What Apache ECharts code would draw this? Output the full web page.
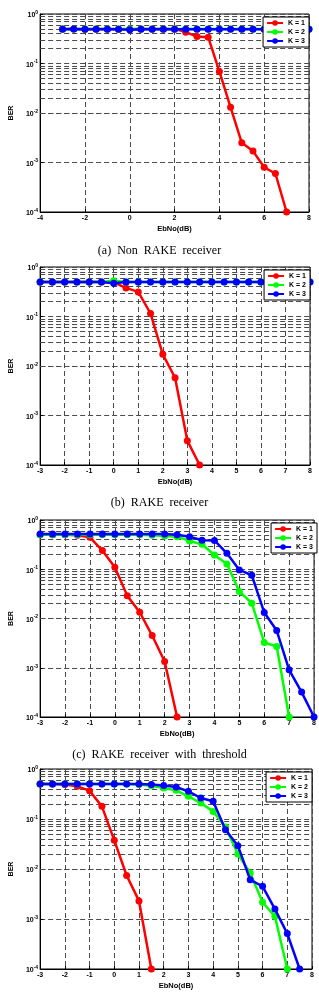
<!DOCTYPE html>
<html><head><meta charset="utf-8">
<script src="https://cdn.jsdelivr.net/npm/echarts/dist/echarts.min.js"></script>
<style>html,body{margin:0;padding:0;background:#fff}#c{width:319px;height:993px}</style>
</head><body><div id="c"></div>
<script>
// EbNo (dB) sample points, step 0.5
const ebno = [-3,-2.5,-2,-1.5,-1,-0.5,0,0.5,1,1.5,2,2.5,3,3.5,4,4.5,5,5.5,6,6.5,7,7.5,8];
const seriesNames = ['K = 1','K = 2','K = 3'];
const captions = ['(a)  Non  RAKE  receiver','(b)  RAKE  receiver','(c)  RAKE  receiver  with  threshold'];
const minorGridBER = [2e-4,3e-4,4e-4,5e-4,6e-4,7e-4,8e-4,9e-4,2e-3,3e-3,4e-3,5e-3,6e-3,7e-3,8e-3,9e-3,
  2e-2,3e-2,4e-2,5e-2,6e-2,7e-2,8e-2,9e-2,0.2,0.3,0.4,0.5,0.6,0.7,0.8,0.9];

// (a) Non RAKE receiver
const aK1 = [0.5,0.5,0.49,0.5,0.5,0.49,0.49,0.5,0.5,0.5,0.5,0.43,0.35,0.34,0.069,0.013,0.0025,0.0017,0.0008,0.0006,0.0001];
const aK2 = [0.5,0.5,0.5,0.5,0.5,0.5,0.5,0.5,0.5,0.5,0.5,0.5,0.5,0.5,0.5,0.5,0.5,0.5,0.5,0.5,0.5,0.5,0.5];
const aK3 = [0.49,0.5,0.49,0.49,0.49,0.49,0.48,0.49,0.49,0.49,0.49,0.49,0.49,0.49,0.49,0.49,0.49,0.49,0.49,0.49,0.49,0.49,0.49];
// (b) RAKE receiver
const bK1 = [0.5,0.5,0.5,0.5,0.5,0.5,0.49,0.378,0.314,0.115,0.0172,0.0058,0.00031,0.0001];
const bK2 = [0.5,0.5,0.5,0.5,0.5,0.5,0.53,0.5,0.5,0.5,0.5,0.5,0.5,0.5,0.5,0.5,0.5,0.5,0.5,0.5,0.5,0.5,0.5];
const bK3 = [0.5,0.5,0.5,0.5,0.5,0.5,0.47,0.5,0.5,0.5,0.5,0.5,0.5,0.5,0.5,0.5,0.5,0.5,0.5,0.5,0.5,0.5,0.5];
// (c) RAKE receiver with threshold
const cK1 = [0.5,0.5,0.5,0.49,0.445,0.239,0.11,0.0288,0.0134,0.0045,0.00134,0.0001];
const cK2 = [0.5,0.5,0.5,0.5,0.5,0.5,0.5,0.5,0.5,0.49,0.474,0.459,0.376,0.321,0.195,0.128,0.0353,0.0205,0.00326,0.0027,0.0001];
const cK3 = [0.52,0.52,0.52,0.52,0.52,0.52,0.52,0.52,0.52,0.52,0.52,0.504,0.459,0.387,0.385,0.211,0.097,0.0756,0.0132,0.0057,0.00091,0.00032,0.0001];
// (d)
const dK1 = [0.5,0.5,0.49,0.45,0.369,0.179,0.0374,0.0074,0.0023,0.0001];
const dK2 = [0.5,0.5,0.5,0.5,0.5,0.5,0.5,0.5,0.49,0.46,0.417,0.374,0.284,0.209,0.142,0.069,0.02,0.0083,0.00216,0.00113,0.0001];
const dK3 = [0.5,0.5,0.5,0.5,0.5,0.5,0.5,0.5,0.5,0.49,0.47,0.436,0.357,0.263,0.226,0.0612,0.0293,0.0061,0.0045,0.00158,0.00051,0.0001];

const panels = [
  {g:{left:22,top:14,width:287,height:198}, xmin:-4, xint:2, cap:248, d:[aK1,aK2,aK3]},
  {g:{left:22,top:267,width:288,height:198}, xmin:-3, xint:1, cap:500, d:[bK1,bK2,bK3]},
  {g:{left:30,top:520,width:287,height:197}, xmin:-3, xint:1, cap:752, d:[cK1,cK2,cK3]},
  {g:{left:22,top:769,width:290,height:200}, xmin:-3, xint:1, cap:null, d:[dK1,dK2,dK3]}
];
const colors = ['#ff0000','#00ff00','#0000ff'];
const gridLine = {type:[5,3], color:'#4a4a4a', width:1};
const W = 319;

const option = {animation:false, grid:[], xAxis:[], yAxis:[], series:[], legend:[], title:[]};
panels.forEach((p,i)=>{
  option.grid.push(Object.assign({show:true, borderColor:'#000', borderWidth:1, backgroundColor:'#fff', containLabel:false}, p.g));
  option.xAxis.push({type:'value', gridIndex:i, min:p.xmin, max:8, interval:p.xint,
    name:'EbNo(dB)', nameLocation:'middle', nameGap:13,
    nameTextStyle:{fontSize:7.5, fontWeight:'bold', fontFamily:'Liberation Sans', color:'#000'},
    axisLine:{onZero:false, lineStyle:{color:'#000'}}, axisTick:{inside:true, length:3, lineStyle:{color:'#000'}},
    axisLabel:{fontSize:7, fontWeight:'bold', fontFamily:'Liberation Sans', color:'#000', margin:3},
    splitLine:{show:true, lineStyle:gridLine}});
  option.yAxis.push({type:'log', logBase:10, gridIndex:i, min:1e-4, max:1,
    name:'BER', nameLocation:'middle', nameGap:17,
    nameTextStyle:{fontSize:7, fontWeight:'bold', fontFamily:'Liberation Sans', color:'#000'},
    axisLine:{show:true, onZero:false, lineStyle:{color:'#000'}}, axisTick:{inside:true, length:3, lineStyle:{color:'#000'}},
    axisLabel:{margin:2, color:'#000', formatter:v=>'{b|10}{s|'+Math.round(Math.log10(v))+'}',
      rich:{b:{fontSize:7, fontWeight:'bold', fontFamily:'Liberation Sans', color:'#000', padding:[3,0,0,0]},
            s:{fontSize:5, fontWeight:'bold', fontFamily:'Liberation Sans', color:'#000', padding:[0,0,3,0]}}},
    splitLine:{show:true, lineStyle:gridLine}});
  option.series.push({type:'line', xAxisIndex:i, yAxisIndex:i, data:[], silent:true, z:1,
    markLine:{silent:true, z:1, symbol:'none', label:{show:false}, lineStyle:gridLine, animation:false,
      emphasis:{disabled:true}, data:minorGridBER.map(v=>({yAxis:v}))}});
  p.d.forEach((vals,k)=>{
    option.series.push({type:'line', name:seriesNames[k], xAxisIndex:i, yAxisIndex:i, z:3+k,
      data: vals.map((v,j)=>[ebno[j], v]), color:colors[k], symbol:'circle', symbolSize:7,
      lineStyle:{width:2.5, color:colors[k]}, itemStyle:{color:colors[k]}});
  });
  option.legend.push({orient:'vertical', right: W-(p.g.left+p.g.width), top:p.g.top+3, z:20,
    backgroundColor:'#fff', borderColor:'#000', borderWidth:1, padding:[2,4,2,3], itemGap:1,
    itemWidth:16, itemHeight:7, selectedMode:false,
    textStyle:{fontSize:7, lineHeight:8, fontWeight:'bold', fontFamily:'Liberation Sans', color:'#000'},
    data:seriesNames});
  if (p.cap!==null) {
    option.title.push({text:captions[i], left:'center', top:p.cap-8,
      textStyle:{fontSize:12, fontWeight:'normal', fontFamily:'Liberation Serif', color:'#000'}});
  }
});
const chart = echarts.init(document.getElementById('c'), null, {renderer:'canvas'});
chart.setOption(option);
</script></body></html>
